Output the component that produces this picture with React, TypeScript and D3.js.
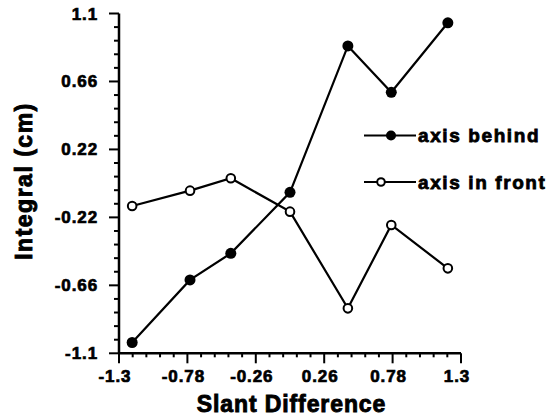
import React from 'react';
import { scaleLinear, line, range } from 'd3';

// data
const slant = [-1.2, -0.76, -0.45, 0, 0.44, 0.77, 1.2];
const axisBehind = [-1.03, -0.625, -0.453, -0.058, 0.89, 0.59, 1.04];
const axisInFront = [-0.146, -0.047, 0.033, -0.183, -0.809, -0.269, -0.55];
const xTicks = [-1.3, -0.78, -0.26, 0.26, 0.78, 1.3];
const yTicks = [-1.1, -0.66, -0.22, 0.22, 0.66, 1.1];
const legendLabels = ['axis behind', 'axis in front'];

const font = '"Liberation Sans", Arial, Helvetica, sans-serif';

export default function App() {
  const width = 550;
  const height = 419;
  const left = 119;
  const right = 461;
  const top = 13.5;
  const bottom = 353.3;

  const x = scaleLinear().domain([-1.3, 1.3]).range([left, right]);
  const y = scaleLinear().domain([-1.1, 1.1]).range([bottom, top]);

  // minor ticks: 5 steps between majors
  const xMinor = range(0, 26).map(i => -1.3 + i * 0.104);
  const yMinor = range(0, 26).map(i => -1.1 + i * 0.088);

  const path = line<number>()
    .x((d, i) => x(slant[i]))
    .y(d => y(d));

  return (
    <svg
      width={width}
      height={height}
      style={{ position: 'absolute', left: 0, top: 0, background: '#fff' }}>
      <g fontFamily={font} fontWeight="bold" fill="#000" stroke="#000">
        {/* axes */}
        <line x1={left} x2={left} y1={top} y2={bottom} strokeWidth={2.5} />
        <line x1={left} x2={right} y1={bottom} y2={bottom} strokeWidth={2.5} />

        {yMinor.map((v, i) => (
          <line
            key={'ym' + i}
            x1={left - (i % 5 === 0 ? 10 : 5)}
            x2={left}
            y1={y(v)}
            y2={y(v)}
            strokeWidth={2}
          />
        ))}
        {xMinor.map((v, i) => (
          <line
            key={'xm' + i}
            x1={x(v)}
            x2={x(v)}
            y1={bottom}
            y2={bottom + (i % 5 === 0 ? 10 : 4)}
            strokeWidth={2}
          />
        ))}

        {yTicks.map(v => (
          <text
            key={'yt' + v}
            x={98}
            y={y(v) + 6}
            textAnchor="end"
            fontSize={17}
            strokeWidth={0.7}
            letterSpacing={0.9}>
            {String(v)}
          </text>
        ))}
        {xTicks.map(v => (
          <text
            key={'xt' + v}
            x={x(v) - 4}
            y={381.5}
            textAnchor="middle"
            fontSize={17}
            strokeWidth={0.7}
            letterSpacing={0.9}>
            {String(v)}
          </text>
        ))}

        {/* titles */}
        <text x={291.5} y={411.5} textAnchor="middle" fontSize={23} strokeWidth={0.9} letterSpacing={0.9}>
          Slant Difference
        </text>
        <text
          transform="translate(32,181) rotate(-90)"
          textAnchor="middle"
          fontSize={23}
          strokeWidth={0.9}
          letterSpacing={1.5}>
          Integral (cm)
        </text>

        {/* series */}
        <path d={path(axisBehind) || ''} fill="none" strokeWidth={2.2} />
        <path d={path(axisInFront) || ''} fill="none" strokeWidth={2.2} />
        {axisInFront.map((v, i) => (
          <circle key={'o' + i} cx={x(slant[i])} cy={y(v)} r={4.3} fill="#fff" strokeWidth={2} />
        ))}
        {axisBehind.map((v, i) => (
          <circle key={'f' + i} cx={x(slant[i])} cy={y(v)} r={5.5} stroke="none" />
        ))}

        {/* legend */}
        <g>
          <line x1={364} x2={416} y1={135.5} y2={135.5} strokeWidth={2} />
          <circle cx={391} cy={135.5} r={5} stroke="none" />
          <text x={418} y={142} fontSize={19} strokeWidth={0.8} letterSpacing={1.6}>
            {legendLabels[0]}
          </text>
          <line x1={364} x2={416} y1={182} y2={182} strokeWidth={2} />
          <circle cx={381} cy={182} r={3.8} fill="#fff" strokeWidth={2} />
          <text x={418} y={188.5} fontSize={19} strokeWidth={0.8} letterSpacing={1.6}>
            {legendLabels[1]}
          </text>
        </g>
      </g>
    </svg>
  );
}
